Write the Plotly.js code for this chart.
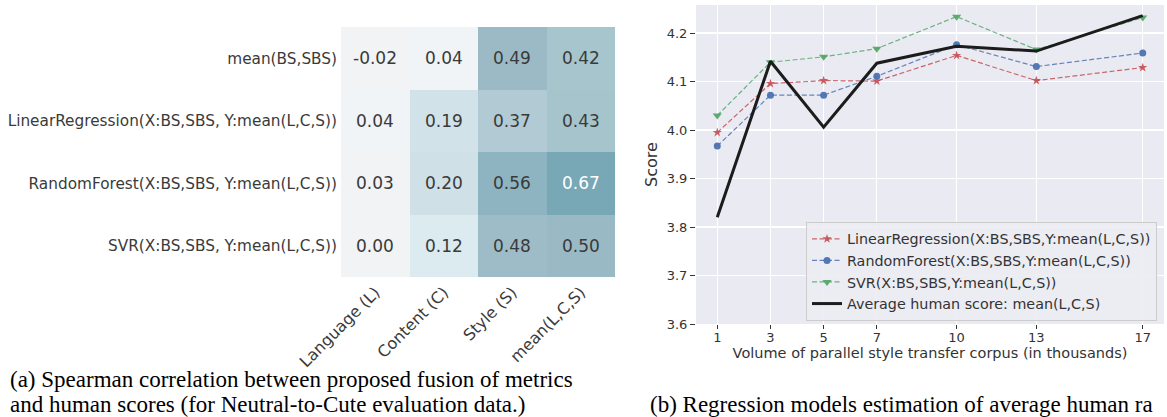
<!DOCTYPE html>
<html>
<head>
<meta charset="utf-8">
<script src="https://cdn.plot.ly/plotly-3.0.1.min.js"></script>
<style>html,body{margin:0;padding:0;background:#fff;}#chart{width:1167px;height:417px;}</style>
</head>
<body>
<div id="chart"></div>
<script>
// ---------- Heatmap data (a) ----------
const heatRows = ["mean(BS,SBS)", "LinearRegression(X:BS,SBS, Y:mean(L,C,S))", "RandomForest(X:BS,SBS, Y:mean(L,C,S))", "SVR(X:BS,SBS, Y:mean(L,C,S))"];
const heatCols = ["Language (L)", "Content (C)", "Style (S)", "mean(L,C,S)"];
const rowMeanBS = [-0.02, 0.04, 0.49, 0.42];
const rowLinReg = [0.04, 0.19, 0.37, 0.43];
const rowRandFor = [0.03, 0.20, 0.56, 0.67];
const rowSVR = [0.00, 0.12, 0.48, 0.50];
const heatValues = [rowMeanBS, rowLinReg, rowRandFor, rowSVR];

// ---------- Line chart data (b) ----------
const volume = [1, 3, 5, 7, 10, 13, 17];
const lrScores = [3.995, 4.096, 4.102, 4.101, 4.154, 4.102, 4.129];
const rfScores = [3.967, 4.072, 4.072, 4.111, 4.176, 4.131, 4.159];
const svrScores = [4.030, 4.140, 4.151, 4.168, 4.234, 4.166, 4.232];
const humanScores = [3.820, 4.142, 4.006, 4.138, 4.173, 4.163, 4.236];
const seriesNames = ["LinearRegression(X:BS,SBS,Y:mean(L,C,S))", "RandomForest(X:BS,SBS,Y:mean(L,C,S))", "SVR(X:BS,SBS,Y:mean(L,C,S))", "Average human score: mean(L,C,S)"];

const captionA1 = "(a) Spearman correlation between proposed fusion of metrics";
const captionA2 = "and human scores (for Neutral-to-Cute evaluation data.)";
const captionB = "(b) Regression models estimation of average human ra";

const W = 1167, H = 417;
const px = v => v / W;
const py = v => 1 - v / H;

const heatmap = {
  type: 'heatmap',
  x: heatCols, y: heatRows, z: heatValues,
  xaxis: 'x', yaxis: 'y',
  zmin: 0, zmax: 0.67,
  colorscale: [
    [0, '#f2f3f5'], [0.055, '#f1f3f5'], [0.065, '#eef5f7'], [0.179, '#dcebf0'],
    [0.2985, '#cfe1e7'], [0.552, '#b1cad3'], [0.627, '#a6c5cd'], [0.642, '#a5c4cc'],
    [0.731, '#9bbac6'], [0.836, '#8db4c0'], [1, '#78a7b5']
  ],
  showscale: false, hoverinfo: 'skip', xgap: 0, ygap: 0
};

const dashStyle = '5px,2.5px';
const traces = [heatmap,
  {type:'scatter', mode:'lines+markers', x: volume, y: lrScores, name: seriesNames[0], xaxis:'x2', yaxis:'y2',
   line:{color:'rgba(196,78,82,0.85)', width:1.2, dash:dashStyle}, marker:{symbol:'star', size:7, color:'rgba(196,78,82,0.9)'}},
  {type:'scatter', mode:'lines+markers', x: volume, y: rfScores, name: seriesNames[1], xaxis:'x2', yaxis:'y2',
   line:{color:'rgba(76,114,176,0.85)', width:1.2, dash:dashStyle}, marker:{symbol:'circle', size:7, color:'rgba(76,114,176,0.95)'}},
  {type:'scatter', mode:'lines+markers', x: volume, y: svrScores, name: seriesNames[2], xaxis:'x2', yaxis:'y2',
   line:{color:'rgba(85,168,104,0.85)', width:1.2, dash:dashStyle}, marker:{symbol:'triangle-down', size:8, color:'rgba(85,168,104,0.95)'}},
  {type:'scatter', mode:'lines', x: volume, y: humanScores, name: seriesNames[3], xaxis:'x2', yaxis:'y2',
   line:{color:'#1c1c1c', width:3}}
];

const annotations = [];
heatValues.forEach((row, i) => row.forEach((v, j) => {
  annotations.push({x: heatCols[j], y: heatRows[i], xref:'x', yref:'y', text: v.toFixed(2), showarrow:false,
    font:{family:'DejaVu Sans', size:17, color: v > 0.6 ? '#ffffff' : '#3a3a3a'}});
}));
const capFont = {family:'Liberation Serif', size:23, color:'#000'};
annotations.push({xref:'paper', yref:'paper', x: px(8), y: py(379), xanchor:'left', yanchor:'middle', text: captionA1, showarrow:false, font: capFont});
annotations.push({xref:'paper', yref:'paper', x: px(8), y: py(404), xanchor:'left', yanchor:'middle', text: captionA2, showarrow:false, font: capFont});
annotations.push({xref:'paper', yref:'paper', x: px(648), y: py(404), xanchor:'left', yanchor:'middle', text: captionB, showarrow:false, font: capFont});

const layout = {
  width: W, height: H,
  margin: {l:0, r:0, t:0, b:0},
  paper_bgcolor: '#ffffff',
  showlegend: true,
  font: {family:'DejaVu Sans', color:'#333'},
  xaxis: {domain:[px(341), px(615)], anchor:'y', type:'category', showgrid:false, zeroline:false, showline:false,
    ticks:'', tickangle:-45, tickfont:{size:16, color:'#3a3a3a'}, ticklabelstandoff: 2},
  yaxis: {domain:[py(277), py(27)], anchor:'x', type:'category', autorange:'reversed', showgrid:false, zeroline:false, showline:false,
    ticks:'', tickfont:{size:15.3, color:'#3a3a3a'}, ticklabelstandoff: 3},
  xaxis2: {domain:[px(696), px(1164)], anchor:'y2', range:[0.2, 17.8], tickvals: volume, ticktext: volume.map(String),
    showgrid:true, gridcolor:'#ffffff', gridwidth:1.3, zeroline:false, showline:false,
    ticks:'outside', ticklen:4, tickwidth:1, tickcolor:'#333', tickfont:{size:13, color:'#333'}, ticklabelstandoff:-3,
    title:{text:'Volume of parallel style transfer corpus (in thousands)', font:{size:14.5, color:'#333'}, standoff:1}},
  yaxis2: {domain:[py(324), py(5)], anchor:'x2', range:[3.6, 4.258], dtick:0.1, tick0:3.6, tickformat:'.1f',
    showgrid:true, gridcolor:'#ffffff', gridwidth:1.3, zeroline:false, showline:false,
    ticks:'outside', ticklen:5, tickwidth:1, tickcolor:'#333', tickfont:{size:13, color:'#333'},
    title:{text:'Score', font:{size:16, color:'#333'}, standoff:5}},
  plot_bgcolor: '#eaeaf2',
  legend: {x: px(1157), y: py(321), xanchor:'right', yanchor:'bottom', bgcolor:'rgba(236,236,243,0.9)', bordercolor:'#cccccc', borderwidth:1,
    font:{size:14.3, color:'#333'}, tracegroupgap:0},
  annotations: annotations,
  shapes: [{type:'rect', xref:'paper', yref:'paper', x0:px(696), x1:px(1164), y0:py(324), y1:py(5), fillcolor:'#eaeaf2', line:{width:0}, layer:'below'}]
};

Plotly.newPlot('chart', traces, layout, {displayModeBar:false, staticPlot:true});
</script>
</body>
</html>
